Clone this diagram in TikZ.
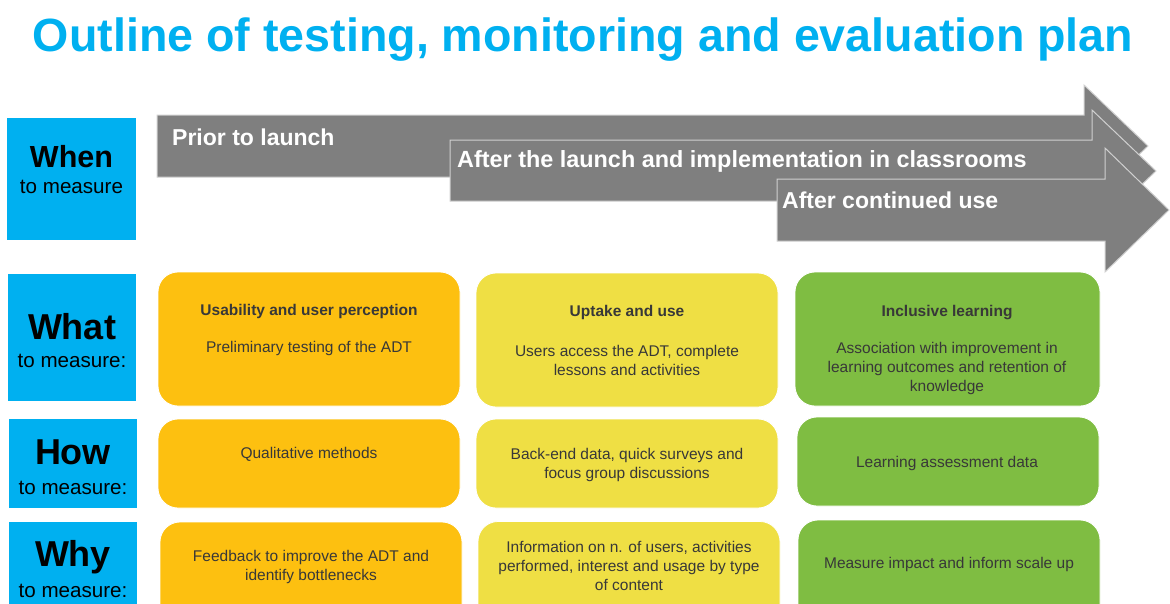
\documentclass[tikz,border=0pt]{standalone}
\usepackage{fontspec}
\setmainfont{Liberation Sans}
\definecolor{titleblue}{HTML}{00B0F0}
\definecolor{arrgray}{HTML}{7F7F7F}
\definecolor{arrline}{HTML}{D0D0D0}
\definecolor{orangeb}{HTML}{FDC010}
\definecolor{yellowb}{HTML}{EFDF44}
\definecolor{greenb}{HTML}{7FBD42}
\definecolor{txt}{HTML}{383838}
\tikzset{
  lab/.style={fill=titleblue, draw=none, inner sep=0pt},
  labbig/.style={font=\fontsize{36}{40}\selectfont\bfseries, text=black, inner sep=0pt},
  labsmall/.style={font=\fontsize{20.6}{24}\selectfont, text=black, inner sep=0pt},
  cbox/.style={rounded corners=20pt, draw=white, line width=0.8pt, inner sep=0pt, minimum width=302pt},
  btxt/.style={text=txt, font=\fontsize{15.5}{19}\selectfont, align=center, inner sep=0pt},
  bhead/.style={text=txt, font=\fontsize{15.5}{19}\selectfont\bfseries, align=center, inner sep=0pt},
  arr/.style={fill=arrgray, draw=arrline, line width=1pt},
  arrtxt/.style={text=white, font=\fontsize{23}{26}\selectfont\bfseries, anchor=west, inner sep=0pt},
}
\begin{document}
\begin{tikzpicture}[x=1pt,y=-1pt]
\useasboundingbox (0,0) rectangle (1170,603);
\clip (0,0) rectangle (1170,603);
% title
\node[text=titleblue, font=\fontsize{46.6}{50}\selectfont\bfseries, inner sep=0pt] (title) at (583,40) {Outline of testing, monitoring and evaluation plan};
% arrows
\draw[arr] (157,115) -- (1084,115) -- (1084,85) -- (1148,146) -- (1084,207) -- (1084,177) -- (157,177) -- cycle;
\draw[arr] (450,140) -- (1092,140) -- (1092,110) -- (1156,171) -- (1092,232) -- (1092,201) -- (450,201) -- cycle;
\draw[arr] (777,179) -- (1105,179) -- (1105,148) -- (1169,210) -- (1105,272) -- (1105,241) -- (777,241) -- cycle;
\node[arrtxt] (a1) at (172,137) {Prior to launch};
\node[arrtxt, font=\fontsize{23.4}{26}\selectfont\bfseries] (a2) at (457,161) {After the launch and implementation in classrooms};
\node[arrtxt] (a3) at (782,200) {After continued use};
% left labels
\node[lab, minimum width=129pt, minimum height=122pt] (when) at (71.5,179) {};
\node[labbig, font=\fontsize{30.5}{34}\selectfont\bfseries] (whent) at (71.5,157) {When};
\node[labsmall] (whens) at (71.5,187) {to measure};
\node[lab, minimum width=128pt, minimum height=127pt] (what) at (72,337.5) {};
\node[labbig] (whatt) at (72,327) {What};
\node[labsmall] (whats) at (72,361) {to measure:};
\node[lab, minimum width=128pt, minimum height=89pt] (how) at (73,463.5) {};
\node[labbig] (howt) at (73,452) {How};
\node[labsmall] (hows) at (73,488) {to measure:};
\node[lab, minimum width=128pt, minimum height=128pt] (why) at (73,586) {};
\node[labbig] (whyt) at (73,557) {Why};
\node[labsmall] (whys) at (73,591) {to measure:};
% column 1
\node[cbox, fill=orangeb, minimum height=134pt] (b11) at (309,339) {};
\node[cbox, fill=orangeb, minimum height=89pt] (b12) at (309,463.5) {};
\node[cbox, fill=orangeb, minimum height=128pt] (b13) at (311,586) {};
% column 2
\node[cbox, fill=yellowb, minimum height=134pt] (b21) at (627,340) {};
\node[cbox, fill=yellowb, minimum height=89pt] (b22) at (627,463.5) {};
\node[cbox, fill=yellowb, minimum height=128pt] (b23) at (629,585.5) {};
% column 3
\node[cbox, fill=greenb, minimum width=305pt, minimum height=134pt] (b31) at (947.5,339) {};
\node[cbox, fill=greenb, minimum height=89pt] (b32) at (948,461.5) {};
\node[cbox, fill=greenb, minimum height=130pt] (b33) at (949,585) {};
% texts column 1
\node[bhead] (t11h) at (309,311) {Usability and user perception};
\node[btxt] (t11) at (309,348) {Preliminary testing of the ADT};
\node[btxt] (t12) at (309,454) {Qualitative methods};
\node[btxt] (t13) at (311,566.5) {Feedback to improve the ADT and\\identify bottlenecks};
% texts column 2
\node[bhead] (t21h) at (627,312) {Uptake and use};
\node[btxt] (t21) at (627,360.5) {Users access the ADT, complete\\lessons and activities};
\node[btxt] (t22) at (627,464.5) {Back-end data, quick surveys and\\focus group discussions};
\node[btxt] (t23) at (629,566) {Information on n. of users, activities\\performed, interest and usage by type\\of content};
% texts column 3
\node[bhead] (t31h) at (947,312.5) {Inclusive learning};
\node[btxt] (t31) at (947,368.5) {Association with improvement in\\learning outcomes and retention of\\knowledge};
\node[btxt] (t32) at (947,463) {Learning assessment data};
\node[btxt] (t33) at (949,564) {Measure impact and inform scale up};
\end{tikzpicture}
\end{document}
